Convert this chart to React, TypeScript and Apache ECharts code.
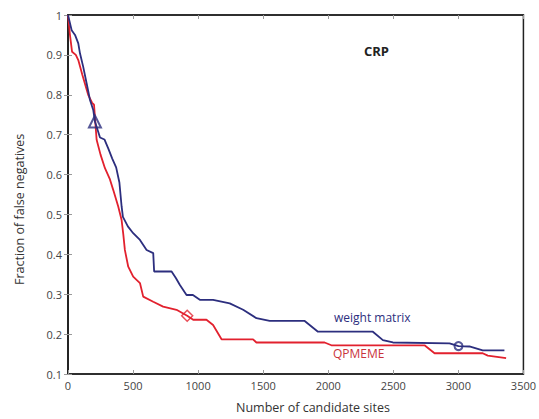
import React, { useEffect, useRef } from "react";
import * as echarts from "echarts";

const xTicks = [0, 500, 1000, 1500, 2000, 2500, 3000, 3500];
const yTicks = [0.1, 0.2, 0.3, 0.4, 0.5, 0.6, 0.7, 0.8, 0.9, 1];

const weightMatrix: [number, number][] = [
  [0, 1], [28, 0.962], [54, 0.95], [79, 0.929], [92, 0.904], [117, 0.87], [143, 0.829],
  [169, 0.787], [194, 0.762], [207, 0.733], [246, 0.693], [280, 0.688], [310, 0.665],
  [340, 0.64], [370, 0.618], [395, 0.58], [412, 0.52], [422, 0.494], [460, 0.47],
  [501, 0.453], [553, 0.436], [604, 0.411], [655, 0.403], [662, 0.357], [796, 0.357],
  [830, 0.34], [860, 0.323], [911, 0.298], [960, 0.298], [1013, 0.286], [1115, 0.286],
  [1243, 0.277], [1346, 0.261], [1448, 0.24], [1550, 0.233], [1819, 0.233], [1921, 0.206],
  [2343, 0.206], [2420, 0.185], [2497, 0.179], [2932, 0.177], [3001, 0.17], [3085, 0.169],
  [3187, 0.159], [3354, 0.159],
];

const qpmeme: [number, number][] = [
  [0, 1], [15, 0.95], [31, 0.908], [60, 0.9], [79, 0.887], [110, 0.85], [155, 0.8],
  [185, 0.78], [200, 0.775], [220, 0.687], [250, 0.65], [284, 0.616], [320, 0.59],
  [348, 0.561], [386, 0.52], [412, 0.486], [425, 0.45], [437, 0.411], [463, 0.369],
  [501, 0.344], [553, 0.328], [578, 0.294], [655, 0.281], [731, 0.269], [834, 0.261],
  [916, 0.246], [962, 0.236], [1064, 0.236], [1115, 0.223], [1180, 0.187], [1422, 0.187],
  [1448, 0.179], [1972, 0.179], [2024, 0.172], [2740, 0.172], [2817, 0.152], [3187, 0.152],
  [3226, 0.146], [3367, 0.14],
];

const triangleMark: [number, number][] = [[207, 0.733]];
const diamondMark: [number, number][] = [[916, 0.246]];
const circleMark: [number, number][] = [[3001, 0.17]];

const BLUE = "#2c2e7e";
const RED = "#e2212e";
const FONT = "Open Sans";

export default function App() {
  const ref = useRef<HTMLDivElement>(null);
  useEffect(() => {
    if (!ref.current) return;
    const chart = echarts.init(ref.current, null, { renderer: "svg" });
    const tickLabel = { color: "#444", fontSize: 11, fontFamily: FONT };
    chart.setOption({
      animation: false,
      backgroundColor: "#fff",
      grid: { left: 68, right: 15, top: 15, bottom: 45, show: true, borderColor: "#222", borderWidth: 1.5 },
      xAxis: [
        {
          type: "value", min: 0, max: 3500, interval: 500,
          axisLine: { show: true, lineStyle: { color: "#222", width: 1.5 } },
          axisTick: { show: true, inside: true, length: 4, lineStyle: { color: "#999" } },
          axisLabel: { ...tickLabel, margin: 6, formatter: (v: number) => String(v) },
          splitLine: { show: false },
        },
        {
          type: "value", min: 0, max: 3500, interval: 500, position: "top",
          axisLine: { show: true, lineStyle: { color: "#222", width: 1.5 } },
          axisTick: { show: true, inside: true, length: 4, lineStyle: { color: "#999" } },
          axisLabel: { show: false },
          splitLine: { show: false },
        },
      ],
      yAxis: [
        {
          type: "value", min: 0.1, max: 1, interval: 0.1,
          axisLine: { show: true, lineStyle: { color: "#222", width: 1.5 } },
          axisTick: { show: true, inside: true, length: 4, lineStyle: { color: "#999" } },
          axisLabel: { ...tickLabel, margin: 6, formatter: (v: number) => String(Math.round(v * 10) / 10) },
          splitLine: { show: false },
        },
        {
          type: "value", min: 0.1, max: 1, interval: 0.1, position: "right",
          axisLine: { show: true, lineStyle: { color: "#222", width: 1.5 } },
          axisTick: { show: true, inside: true, length: 4, lineStyle: { color: "#999" } },
          axisLabel: { show: false },
          splitLine: { show: false },
        },
      ],
      series: [
        {
          name: "QPMEME", type: "line", data: qpmeme, showSymbol: false, symbol: "none",
          lineStyle: { color: RED, width: 1.8 }, z: 2,
        },
        {
          name: "weight matrix", type: "line", data: weightMatrix, showSymbol: false, symbol: "none",
          lineStyle: { color: BLUE, width: 1.8 }, z: 3,
        },
        {
          type: "scatter", data: triangleMark, symbol: "triangle", symbolSize: 12,
          itemStyle: { color: "rgba(0,0,0,0)", borderColor: BLUE, borderWidth: 2 }, z: 5,
        },
        {
          type: "scatter", data: diamondMark, symbol: "diamond", symbolSize: 11,
          itemStyle: { color: "rgba(0,0,0,0)", borderColor: RED, borderWidth: 1.5 }, z: 5,
        },
        {
          type: "scatter", data: circleMark, symbol: "circle", symbolSize: 8,
          itemStyle: { color: "rgba(0,0,0,0)", borderColor: BLUE, borderWidth: 2 }, z: 5,
        },
      ],
      graphic: [
        { type: "text", left: 364, top: 44, style: { text: "CRP", fontSize: 13, fontWeight: "bold", fill: "#222", fontFamily: FONT } },
        { type: "text", left: 334, top: 311, style: { text: "weight matrix", fontSize: 12, fill: BLUE, fontFamily: FONT } },
        { type: "text", left: 333, top: 347, style: { text: "QPMEME", fontSize: 12, fill: "#c9333b", fontFamily: FONT } },
        { type: "text", left: 236, top: 401, style: { text: "Number of candidate sites", fontSize: 12.5, fill: "#333", fontFamily: FONT } },
        {
          type: "text", x: 13, y: 285, rotation: Math.PI / 2,
          style: { text: "Fraction of false negatives", fontSize: 12.5, fill: "#333", fontFamily: FONT },
        },
      ],
    });
    return () => chart.dispose();
  }, []);
  return <div ref={ref} style={{ position: "fixed", left: 0, top: 0, width: 539, height: 419 }} />;
}
